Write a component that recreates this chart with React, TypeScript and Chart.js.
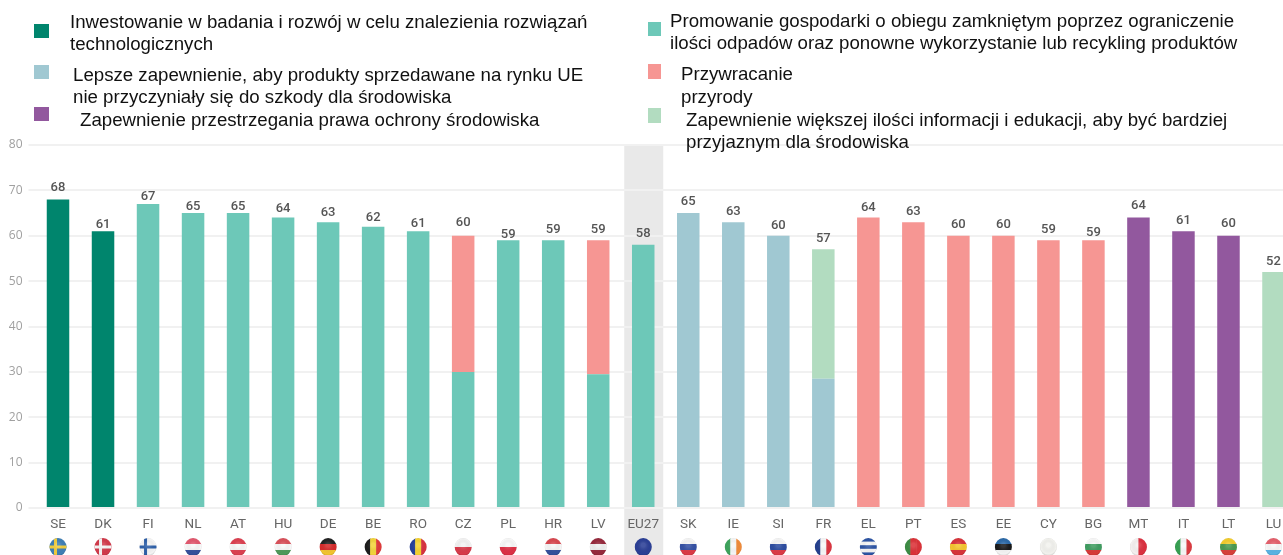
import React, { useEffect, useRef } from "react";
import { Chart, registerables } from "chart.js";

Chart.register(...registerables);

const categories = ["SE","DK","FI","NL","AT","HU","DE","BE","RO","CZ","PL","HR","LV","EU27","SK","IE","SI","FR","EL","PT","ES","EE","CY","BG","MT","IT","LT","LU"];
const n = null;
const research =    [68,61,n,n,n,n,n,n,n,n,n,n,n,n,n,n,n,n,n,n,n,n,n,n,n,n,n,n];
const circular =    [n,n,67,65,65,64,63,62,61,30,59,59,29.5,58,n,n,n,n,n,n,n,n,n,n,n,n,n,n];
const products =    [n,n,n,n,n,n,n,n,n,n,n,n,n,n,65,63,60,28.5,n,n,n,n,n,n,n,n,n,n];
const nature =      [n,n,n,n,n,n,n,n,n,30,n,n,29.5,n,n,n,n,n,64,63,60,60,59,59,n,n,n,n];
const law =         [n,n,n,n,n,n,n,n,n,n,n,n,n,n,n,n,n,n,n,n,n,n,n,n,64,61,60,n];
const information = [n,n,n,n,n,n,n,n,n,n,n,n,n,n,n,n,n,28.5,n,n,n,n,n,n,n,n,n,52];
const totalLabels = [68,61,67,65,65,64,63,62,61,60,59,59,59,58,65,63,60,57,64,63,60,60,59,59,64,61,60,52];
const labelGaps =   [12,6,7,6,6,8.6,9,8.7,7,12.7,6,11,11,11,11,10,10,11,9.6,10,10.7,10.7,11,8,11.6,10,11.7,10];
const yTicks = [0,10,20,30,40,50,60,70,80];

const DARK_GREEN = "#00856d";
const TEAL = "#6dc8b8";
const BLUE = "#a0c8d2";
const SALMON = "#f69693";
const PURPLE = "#92589e";
const LIGHT_GREEN = "#b2dcc0";

const legendLeft = [
  { c: DARK_GREEN, sx: 34, sy: 24, sw: 15, sh: 14, tx: 70, ty: 11, lh: 21.5, lines: ["Inwestowanie w badania i rozwój w celu znalezienia rozwiązań", "technologicznych"] },
  { c: BLUE, sx: 34, sy: 65, sw: 15, sh: 14, tx: 73, ty: 64, lh: 21.5, lines: ["Lepsze zapewnienie, aby produkty sprzedawane na rynku UE", "nie przyczyniały się do szkody dla środowiska"] },
  { c: PURPLE, sx: 34, sy: 107, sw: 15, sh: 14, tx: 80, ty: 109, lh: 21.5, lines: ["Zapewnienie przestrzegania prawa ochrony środowiska"] },
];
const legendRight = [
  { c: TEAL, sx: 648, sy: 22, sw: 13, sh: 14, tx: 670, ty: 10, lh: 22, lines: ["Promowanie gospodarki o obiegu zamkniętym poprzez ograniczenie", "ilości odpadów oraz ponowne wykorzystanie lub recykling produktów"] },
  { c: SALMON, sx: 648, sy: 64, sw: 13, sh: 15, tx: 681, ty: 62, lh: 23, lines: ["Przywracanie", "przyrody"] },
  { c: LIGHT_GREEN, sx: 648, sy: 108, sw: 13, sh: 15, tx: 686, ty: 109, lh: 21.5, lines: ["Zapewnienie większej ilości informacji i edukacji, aby być bardziej", "przyjaznym dla środowiska"] },
];

// Flags: [orientation, ...stripes]
const flags: Record<string, [string, ...string[]]> = {
  SE: ["c", "#3f7fb5", "#f2cd3c"], DK: ["c", "#d2394a", "#f4f4f4"], FI: ["c", "#f4f4f4", "#2d5fa8"],
  NL: ["h", "#e2586e", "#f7f7f7", "#35509c"], AT: ["h", "#dc4050", "#f7f7f7", "#dc4050"],
  HU: ["h", "#d9505a", "#f7f7f7", "#4f9a5a"], DE: ["h", "#222222", "#d62b2b", "#f2c430"],
  BE: ["v", "#1c1c1c", "#f3d43a", "#e03a3a"], RO: ["v", "#26409a", "#f5d22f", "#d8323f"],
  CZ: ["h", "#f2f2f2", "#d83a4a"], PL: ["h", "#f7f7f7", "#dd3045"], HR: ["h", "#d84850", "#f5f5f5", "#34509c"],
  LV: ["h", "#96293c", "#eeeeee", "#96293c"], EU27: ["h", "#2b3f96"],
  SK: ["h", "#f4f4f4", "#3450a4", "#dc3a46"], IE: ["v", "#3da45c", "#f6f6f6", "#f08a38"],
  SI: ["h", "#f4f4f4", "#2c4ca0", "#dc3a46"], FR: ["v", "#24408e", "#f7f7f7", "#dc3540"],
  EL: ["h", "#2c54a4", "#f4f4f4", "#2c54a4", "#f4f4f4", "#2c54a4"], PT: ["v", "#3c8c44", "#dc3238", "#dc3238"],
  ES: ["h", "#d8343a", "#f5c52e", "#d8343a"], EE: ["h", "#2c6aa8", "#1a1a1a", "#f4f4f4"],
  CY: ["h", "#f2f2ee"], BG: ["h", "#f7f7f7", "#3f9c60", "#d83a3a"], MT: ["v", "#f5f0f0", "#dc3040"],
  IT: ["v", "#36a052", "#f7f7f7", "#dc3a40"], LT: ["h", "#f2cc2c", "#4a9a50", "#d8403a"],
  LU: ["h", "#e4606c", "#f7f7f7", "#5ab4e4"],
};

const FONT = "'Open Sans', 'Noto Sans', sans-serif";
const NARROW = "Roboto, 'Open Sans', sans-serif";

const decorations = {
  id: "decorations",
  beforeDraw(chart: any) {
    const { ctx, scales: { x, y }, height } = chart;
    const cx = x.getPixelForValue(categories.indexOf("EU27"));
    ctx.save();
    ctx.fillStyle = "#e9e9e9";
    ctx.fillRect(cx - 19, y.getPixelForValue(80) - 1, 39, height - y.getPixelForValue(80) + 1);
    ctx.restore();
  },
  afterDatasetsDraw(chart: any) {
    const { ctx, scales: { x, y } } = chart;
    ctx.save();
    ctx.textAlign = "center";
    ctx.textBaseline = "middle";
    ctx.fillStyle = "#555555";
    ctx.font = `500 13px ${NARROW}`;
    categories.forEach((_, i) => {
      ctx.fillText(String(totalLabels[i]), x.getPixelForValue(i), y.getPixelForValue(totalLabels[i]) - labelGaps[i]);
    });
    categories.forEach((c, i) => {
      const [kind, ...stripes] = flags[c];
      const fx = x.getPixelForValue(i);
      const fy = 547;
      const r = 9;
      ctx.save();
      ctx.beginPath();
      ctx.ellipse(fx, fy, r - 0.5, r, 0, 0, Math.PI * 2);
      ctx.clip();
      if (kind === "c") {
        ctx.fillStyle = stripes[0];
        ctx.fillRect(fx - r, fy - r, 2 * r, 2 * r);
        ctx.fillStyle = stripes[1];
        ctx.fillRect(fx - r, fy - 1.5, 2 * r, 3);
        ctx.fillRect(fx - 4, fy - r, 3, 2 * r);
      } else {
        stripes.forEach((s, k) => {
          ctx.fillStyle = s;
          const w = (2 * r) / stripes.length;
          if (kind === "h") ctx.fillRect(fx - r, fy - r + k * w, 2 * r, w + 0.5);
          else ctx.fillRect(fx - r + k * w, fy - r, w + 0.5, 2 * r);
        });
      }
      // glossy sphere shading
      const g = ctx.createRadialGradient(fx, fy - 2, 2, fx, fy, r + 1);
      g.addColorStop(0, "rgba(255,255,255,0.12)");
      g.addColorStop(0.7, "rgba(0,0,0,0)");
      g.addColorStop(1, "rgba(0,0,0,0.22)");
      ctx.fillStyle = g;
      ctx.fillRect(fx - r, fy - r, 2 * r, 2 * r);
      ctx.restore();
    });
    ctx.restore();
  },
};

export default function App() {
  const ref = useRef<HTMLCanvasElement>(null);
  useEffect(() => {
    if (!ref.current) return;
    const mk = (label: string, data: any[], backgroundColor: string) => ({ label, data, backgroundColor, stack: "s" });
    const chart = new Chart(ref.current, {
      type: "bar",
      data: {
        labels: categories,
        datasets: [
          mk("Inwestowanie", research, DARK_GREEN),
          mk("Promowanie", circular, TEAL),
          mk("Lepsze", products, BLUE),
          mk("Przywracanie", nature, SALMON),
          mk("Przestrzeganie", law, PURPLE),
          mk("Informacja", information, LIGHT_GREEN),
        ],
      },
      options: {
        responsive: false,
        animation: false,
        events: [],
        layout: { padding: { top: 145 } },
        barPercentage: 0.5,
        categoryPercentage: 1,
        plugins: { legend: { display: false }, tooltip: { enabled: false } },
        scales: {
          x: {
            stacked: true,
            afterFit(s: any) { s.height = 47; },
            grid: { display: false },
            border: { display: false },
            ticks: { color: "#666666", font: { family: NARROW, size: 13.5 }, padding: 1, autoSkip: false, maxRotation: 0 },
          },
          y: {
            stacked: true,
            min: 0,
            max: 80,
            afterFit(s: any) { s.width = 35.5; },
            afterBuildTicks(s: any) { s.ticks = yTicks.map((value) => ({ value })); },
            grid: { color: "#f1f1f1", lineWidth: 2, tickLength: 7, tickColor: "#f1f1f1" },
            border: { display: false },
            ticks: { color: "#a0a0a0", font: { family: FONT, size: 12 }, padding: 6 },
          },
        },
      } as any,
      plugins: [decorations],
    });
    return () => chart.destroy();
  }, []);

  const renderLegend = (items: typeof legendLeft) =>
    items.map((it) => (
      <React.Fragment key={it.lines[0]}>
        <div style={{ position: "absolute", left: it.sx, top: it.sy, width: it.sw, height: it.sh, background: it.c, filter: "blur(0.6px)" }} />
        <div style={{ position: "absolute", left: it.tx, top: it.ty, fontFamily: "'Liberation Sans', Arial, sans-serif", fontSize: 18.67, lineHeight: `${it.lh}px`, color: "#111", whiteSpace: "nowrap" }}>
          {it.lines.map((l) => <div key={l}>{l}</div>)}
        </div>
      </React.Fragment>
    ));

  return (
    <div style={{ position: "fixed", left: 0, top: 0, width: 1283, height: 555, overflow: "hidden", background: "#fff" }}>
      <canvas ref={ref} width={1296} height={555} style={{ position: "absolute", left: 0, top: 0, width: 1296, height: 555, filter: "blur(0.5px)" }} />
      {renderLegend(legendLeft)}
      {renderLegend(legendRight)}
    </div>
  );
}
